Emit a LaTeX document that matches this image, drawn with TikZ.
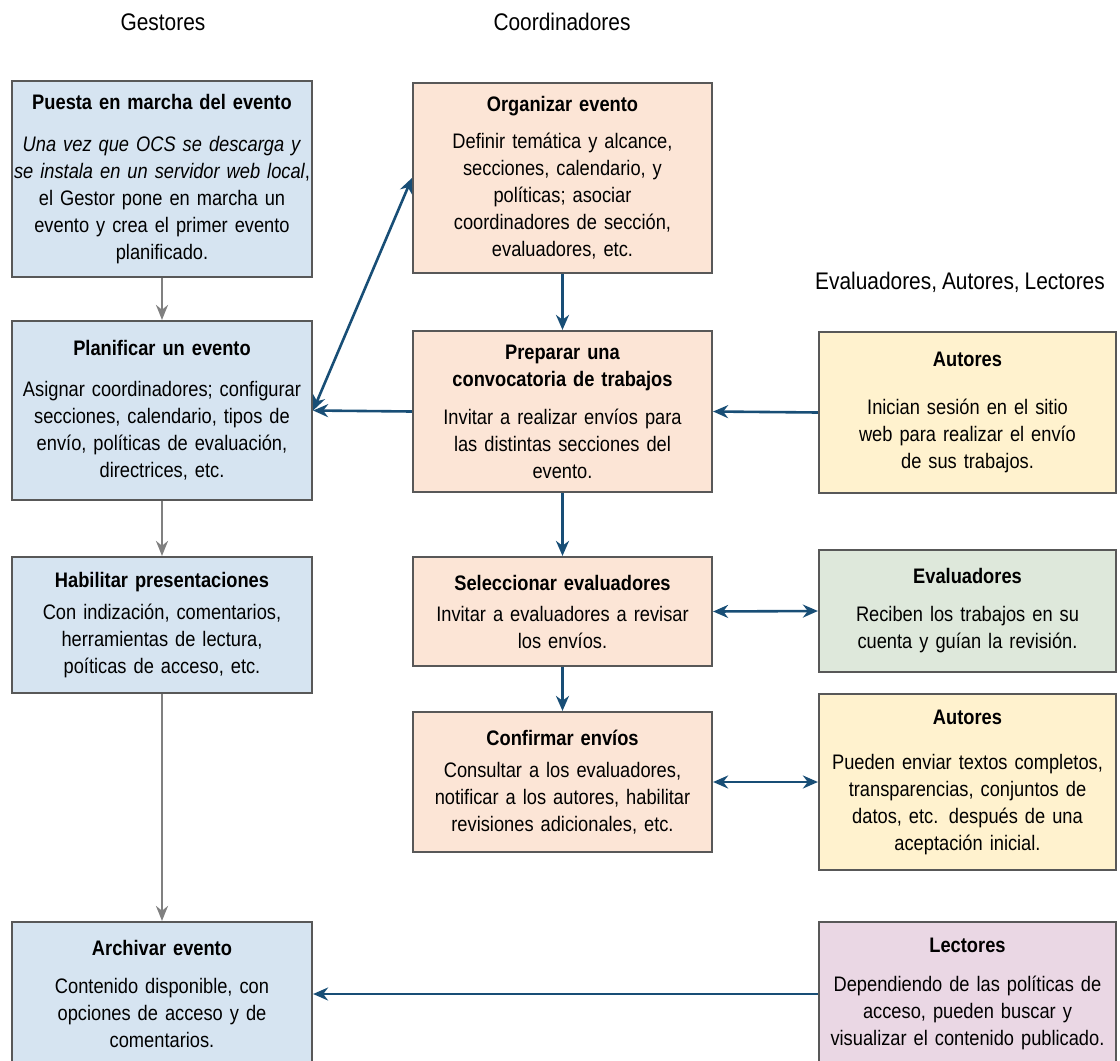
\documentclass[tikz,border=0pt]{standalone}
\usepackage{fontspec}
\setmainfont{Liberation Sans}[FakeStretch=0.87, WordSpace=0.85]
\usetikzlibrary{arrows.meta}

\definecolor{azulfondo}{RGB}{214,228,241}
\definecolor{naranja}{RGB}{252,229,214}
\definecolor{amarillo}{RGB}{255,242,206}
\definecolor{verde}{RGB}{222,232,219}
\definecolor{rosa}{RGB}{234,215,228}
\definecolor{borde}{RGB}{88,88,88}
\definecolor{azulflecha}{RGB}{24,78,118}
\definecolor{grisflecha}{RGB}{128,128,128}

\begin{document}
\begin{tikzpicture}[x=1pt, y=-1pt,
    caja/.style={draw=borde, line width=2.2pt, rectangle, align=center, inner sep=0pt,
      text width=296pt, font=\fontsize{21}{27}\selectfont},
    gestor/.style={caja, fill=azulfondo, minimum width=300pt},
    coord/.style={caja, fill=naranja, minimum width=299pt},
    autor/.style={caja, fill=amarillo, minimum width=297pt},
    evaluador/.style={caja, fill=verde, minimum width=297pt},
    lector/.style={caja, fill=rosa, minimum width=297pt},
    titulo/.style={font=\fontsize{24}{28}\selectfont},
    flecha/.style={draw=azulflecha, line width=2.6pt, -{Stealth[length=15pt, width=13pt]}},
    flechados/.style={flecha, {Stealth[length=15pt, width=13pt]}-{Stealth[length=15pt, width=13pt]}},
    flechagris/.style={draw=grisflecha, line width=2.2pt, -{Stealth[length=15pt, width=12pt]}}]
  \useasboundingbox (0,0) rectangle (1120,1061);

  % cabeceras
  \node[titulo] (tgestores) at (163,22) {Gestores};
  \node[titulo] (tcoord) at (562,22) {Coordinadores};
  \node[titulo] (totros) at (960,282) {Evaluadores, Autores, Lectores};

  % Gestores
  \node[gestor, minimum height=196pt] (puesta) at (162,179) {
    \textbf{Puesta en marcha del evento}\\[15pt]
    \textit{Una vez que OCS se descarga y}\\
    \textit{se instala en un servidor web local},\\
    el Gestor pone en marcha un\\
    evento y crea el primer evento\\
    planificado.};
  \node[gestor, minimum height=179pt] (planif) at (162,410.5) {
    \textbf{Planificar un evento}\\[14pt]
    Asignar coordinadores; configurar\\
    secciones, calendario, tipos de\\
    envío, políticas de evaluación,\\
    directrices, etc.};
  \node[gestor, minimum height=136pt] (habil) at (162,625) {
    \textbf{Habilitar presentaciones}\\[5pt]
    Con indización, comentarios,\\
    herramientas de lectura,\\
    poíticas de acceso, etc.};
  \node[gestor, minimum height=144pt] (archivar) at (162,994) {
    \textbf{Archivar evento}\\[11pt]
    Contenido disponible, con\\
    opciones de acceso y de\\
    comentarios.};

  % Coordinadores
  \node[coord, minimum height=190pt] (organizar) at (562.5,178) {
    \textbf{Organizar evento}\\[10pt]
    Definir temática y alcance,\\
    secciones, calendario, y\\
    políticas; asociar\\
    coordinadores de sección,\\
    evaluadores, etc.};
  \node[coord, minimum height=161pt] (preparar) at (562.5,411.5) {
    \textbf{Preparar una}\\
    \textbf{convocatoria de trabajos}\\[11pt]
    Invitar a realizar envíos para\\
    las distintas secciones del\\
    evento.};
  \node[coord, minimum height=109pt] (selecc) at (562.5,611.5) {
    \textbf{Seleccionar evaluadores}\\[4pt]
    Invitar a evaluadores a revisar\\
    los envíos.};
  \node[coord, minimum height=140pt] (confirmar) at (562.5,782) {
    \textbf{Confirmar envíos}\\[5pt]
    Consultar a los evaluadores,\\
    notificar a los autores, habilitar\\
    revisiones adicionales, etc.};

  % Evaluadores, Autores, Lectores
  \node[autor, minimum height=161pt] (autores) at (967.5,412.5) {
    \textbf{Autores}\\[21pt]
    Inician sesión en el sitio\\
    web para realizar el envío\\
    de sus trabajos.};
  \node[evaluador, minimum height=122pt] (evaluadores) at (967.5,611) {
    \textbf{Evaluadores}\\[11pt]
    Reciben los trabajos en su\\
    cuenta y guían la revisión.};
  \node[autor, minimum height=176pt] (autoresdos) at (967.5,782) {
    \textbf{Autores}\\[18pt]
    Pueden enviar textos completos,\\
    transparencias, conjuntos de\\
    datos, etc. después de una\\
    aceptación inicial.};
  \node[lector, minimum height=144pt] (lectores) at (967.5,994) {
    \textbf{Lectores}\\[12pt]
    Dependiendo de las políticas de\\
    acceso, pueden buscar y\\
    visualizar el contenido publicado.};

  % flechas
  \draw[flechagris] (puesta) -- (planif);
  \draw[flechagris] (planif) -- (habil);
  \draw[flechagris] (habil) -- (archivar);
  \draw[flechados] (planif.east) -- (organizar.west);
  \draw[flecha] (organizar) -- (preparar);
  \draw[flecha] (preparar.west) -- (planif.east);
  \draw[flecha] (autores.west) -- (preparar.east);
  \draw[flecha] (preparar) -- (selecc);
  \draw[flecha] (selecc) -- (confirmar);
  \draw[flechados] (selecc.east) -- (evaluadores.west);
  \draw[flechados] (confirmar.east) -- (autoresdos.west);
  \draw[flecha] (lectores.west) -- (archivar.east);
\end{tikzpicture}
\end{document}
